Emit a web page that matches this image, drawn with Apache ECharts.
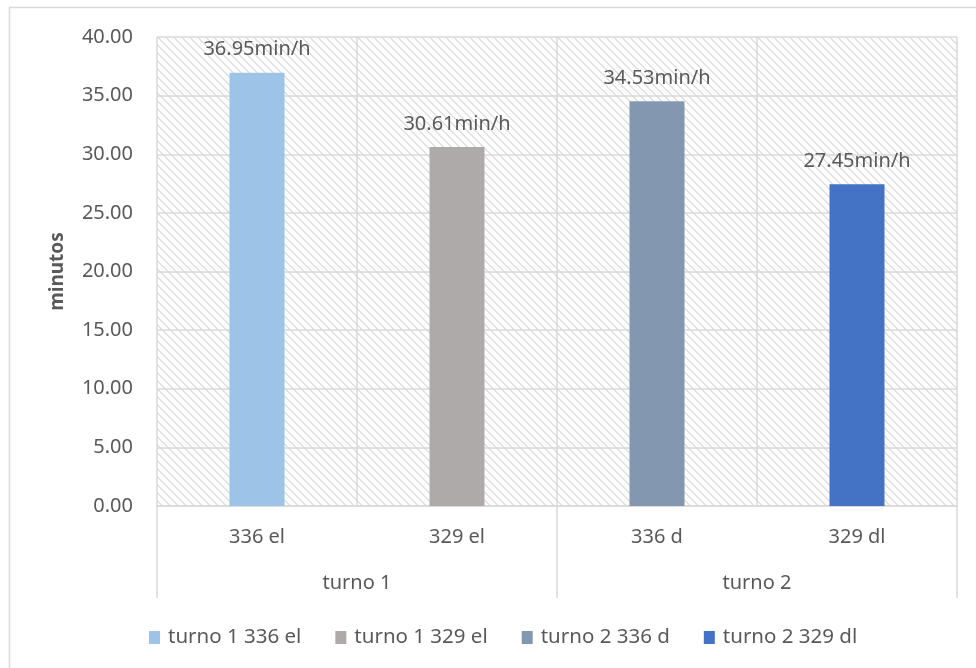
<!DOCTYPE html>
<html>
<head>
<meta charset="utf-8">
<script src="https://cdn.jsdelivr.net/npm/echarts@6/dist/echarts.min.js"></script>
<style>
  html, body { margin: 0; padding: 0; background: #fff; }
  #chart { width: 976px; height: 668px; }
</style>
</head>
<body>
<div id="chart"></div>
<script>
const categories = ["336 el", "329 el", "336 d", "329 dl"];
const groups = ["turno 1", "turno 2"];
const seriesNames = ["turno 1 336 el", "turno 1 329 el", "turno 2 336 d", "turno 2 329 dl"];
const values = [36.95, 30.61, 34.53, 27.45];
const colors = ["#9DC3E6", "#AEAAAA", "#8497B0", "#4472C4"];

const FONT = "Noto Sans";
const TEXT = "#595959";
const LINE = "#D9D9D9";

// diagonal hatch for the plot background
function hatch() {
  const n = 8;
  const c = document.createElement("canvas");
  c.width = n;
  c.height = n;
  const ctx = c.getContext("2d");
  ctx.fillStyle = "#fff";
  ctx.fillRect(0, 0, n, n);
  ctx.fillStyle = "#e0e0e0";
  for (let i = 0; i < n; i++) {
    ctx.fillRect(i, i, 1, 1);
    ctx.fillRect((i + 1) % n, i, 1, 1);
  }
  return c;
}

const chart = echarts.init(document.getElementById("chart"));

const series = values.map((v, i) => ({
  name: seriesNames[i],
  type: "bar",
  stack: "all",
  barWidth: 55,
  itemStyle: { color: colors[i] },
  label: {
    show: true,
    position: "top",
    distance: 13,
    color: TEXT,
    fontFamily: FONT,
    fontSize: 20,
    formatter: (p) => p.value.toFixed(2) + "min/h",
  },
  data: categories.map((_, j) => (j === i ? v : "-")),
}));

chart.setOption({
  animation: false,
  graphic: [
    {
      type: "rect",
      shape: { x: 9.5, y: 7.5, width: 1200, height: 900 },
      style: { fill: "none", stroke: LINE, lineWidth: 1.5 },
      silent: true,
    },
  ],
  legend: {
    data: seriesNames,
    left: 144,
    top: 622,
    itemWidth: 11,
    itemHeight: 13,
    itemGap: 34,
    icon: "rect",
    textStyle: { color: TEXT, fontFamily: FONT, fontSize: 20.5, padding: [0, 0, 0, 3] },
  },
  grid: [
    {
      left: 157, right: 19, top: 37, bottom: 162,
      show: true,
      borderWidth: 0,
      backgroundColor: { image: hatch(), repeat: "repeat" },
    },
    { left: 157, right: 19, top: 37, bottom: 162 },
  ],
  xAxis: [
    {
      type: "category",
      gridIndex: 0,
      data: categories,
      axisLine: { lineStyle: { color: LINE, width: 1.5 } },
      axisTick: { show: false },
      splitLine: { show: true, lineStyle: { color: LINE, width: 1.5 } },
      axisLabel: { color: TEXT, fontFamily: FONT, fontSize: 20, margin: 21 },
    },
    {
      type: "category",
      gridIndex: 1,
      position: "bottom",
      data: groups,
      axisLine: { show: false },
      axisTick: { show: true, length: 92, lineStyle: { color: LINE, width: 1.5 } },
      splitLine: { show: false },
      axisLabel: { color: TEXT, fontFamily: FONT, fontSize: 20, margin: 67 },
    },
  ],
  yAxis: [
    {
      type: "value",
      gridIndex: 0,
      min: 0,
      max: 40,
      interval: 5,
      name: "minutos",
      nameLocation: "middle",
      nameGap: 90,
      nameTextStyle: { color: TEXT, fontFamily: FONT, fontSize: 19, fontWeight: "bold" },
      axisLine: { show: false },
      axisTick: { show: false },
      splitLine: { lineStyle: { color: LINE, width: 1.5 } },
      axisLabel: {
        color: TEXT, fontFamily: FONT, fontSize: 20, margin: 24,
        formatter: (v) => v.toFixed(2),
      },
    },
    { type: "value", gridIndex: 1, show: false },
  ],
  series: series,
});
</script>
</body>
</html>
